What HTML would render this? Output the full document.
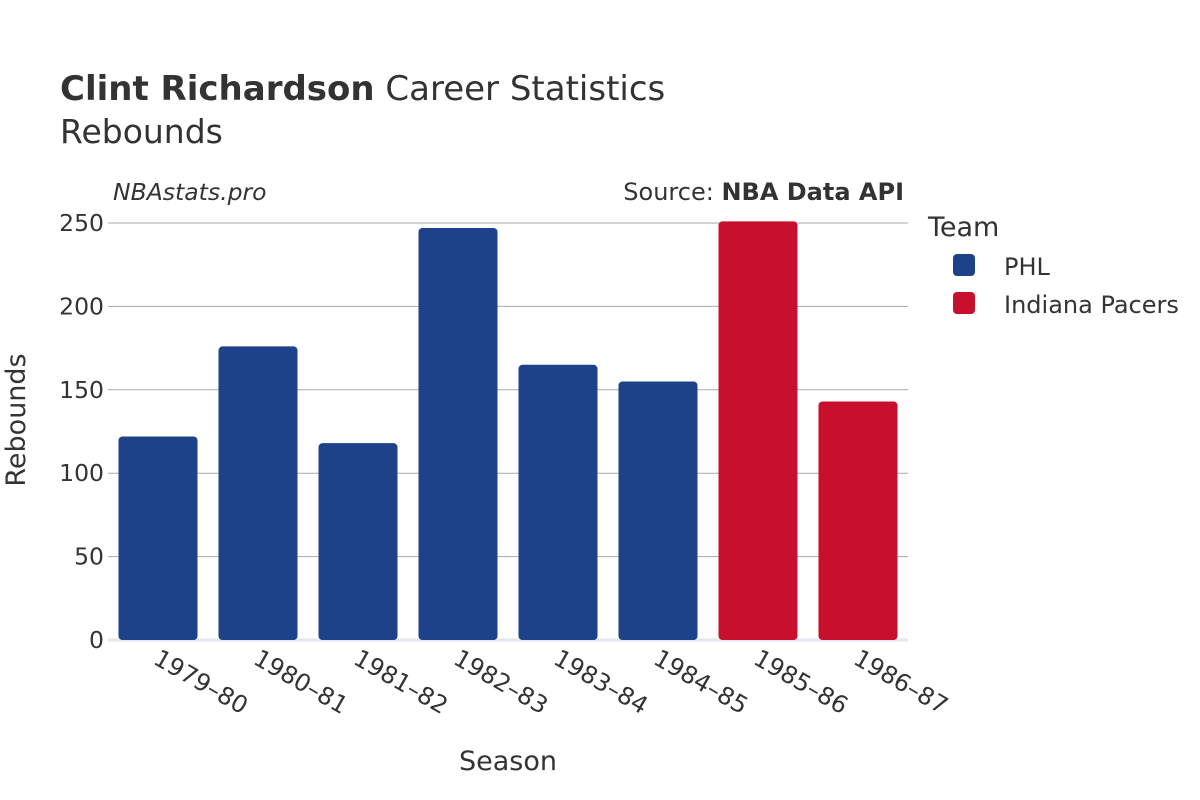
<!DOCTYPE html>
<html><head><meta charset="utf-8"><style>
body{margin:0;background:#fff;}
svg{display:block;font-family:"DejaVu Sans","Liberation Sans",sans-serif;}
</style></head><body>
<svg id="chart" width="1200" height="800" viewBox="0 0 1200 800">
<text x="60" y="100" font-size="34" fill="#333"><tspan font-weight="bold">Clint Richardson</tspan> Career Statistics</text>
<text x="60" y="143" font-size="33" fill="#333">Rebounds</text>
<text x="113" y="200" font-size="23.5" fill="#333" font-style="italic">NBAstats.pro</text>
<text x="904" y="200" font-size="24" fill="#333" text-anchor="end">Source: <tspan font-weight="bold">NBA Data API</tspan></text>
<g id="grid"></g>
<g id="bars"></g>
<g id="xticks"></g>
<text x="25" y="420" font-size="27" fill="#333" text-anchor="middle" transform="rotate(-90 25 420)">Rebounds</text>
<text x="508" y="770" font-size="27" fill="#333" text-anchor="middle">Season</text>
<text x="928" y="236" font-size="27" fill="#333">Team</text>
<g><rect x="953" y="254" width="22" height="22" rx="4" fill="#1d428a"/><text x="1004" y="275" font-size="24" fill="#333">PHL</text></g>
<g><rect x="953" y="292" width="22" height="22" rx="4" fill="#c8102e"/><text x="1004" y="313" font-size="24" fill="#333">Indiana Pacers</text></g>
</svg>
<script>
const seasons=["1979-80","1980-81","1981-82","1982-83","1983-84","1984-85","1985-86","1986-87"];
const rebounds=[122,176,118,247,165,155,251,143];
const teams=["PHL","PHL","PHL","PHL","PHL","PHL","IND","IND"];
const yTicks=[0,50,100,150,200,250];
const colors={PHL:"#1d428a",IND:"#c8102e"};
const NS="http://www.w3.org/2000/svg";
const x0=108,x1=908,y0=640,yTop=223,yMaxV=250;
const y=v=>y0-(v/yMaxV)*(y0-yTop);
const band=(x1-x0)/seasons.length;
const xc=i=>x0+band*(i+0.5);
const grid=document.getElementById('grid');
yTicks.forEach(t=>{
 const l=document.createElementNS(NS,'line');
 l.setAttribute('x1',x0);l.setAttribute('x2',x1);l.setAttribute('y1',y(t));l.setAttribute('y2',y(t));
 l.setAttribute('stroke',t===0?'#e6e6ee':'#aaa');l.setAttribute('stroke-width',t===0?3:1);
 
 
 grid.appendChild(l);
 const tx=document.createElementNS(NS,'text');
 tx.setAttribute('x',x0-4);tx.setAttribute('y',y(t)+8);tx.setAttribute('text-anchor','end');
 tx.setAttribute('font-size','23.5');tx.setAttribute('fill','#333');tx.textContent=t;
 
 
 grid.appendChild(tx);
});
const bars=document.getElementById('bars'),xt=document.getElementById('xticks');
const bw=band*0.79;
seasons.forEach((s,i)=>{
 const r=document.createElementNS(NS,'rect');
 r.setAttribute('x',xc(i)-bw/2);r.setAttribute('y',y(rebounds[i]));
 r.setAttribute('width',bw);r.setAttribute('height',y0-y(rebounds[i]));
 r.setAttribute('rx',4);r.setAttribute('fill',colors[teams[i]]);
 
 
 bars.appendChild(r);
 const t=document.createElementNS(NS,'text');
 const tx=xc(i)-6,ty=663;
 t.setAttribute('x',tx);t.setAttribute('y',ty);t.setAttribute('font-size','24');t.setAttribute('fill','#333');
 t.setAttribute('transform','rotate(30 '+tx+' '+ty+')');
 t.textContent=s.replace('-','–');
 
 
 xt.appendChild(t);
});
</script>
</body></html>
